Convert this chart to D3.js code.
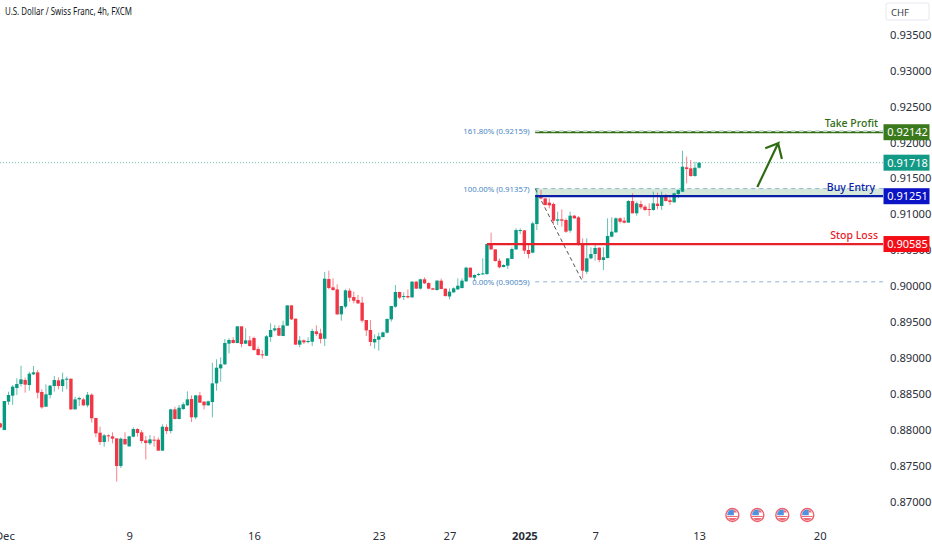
<!DOCTYPE html>
<html>
<head>
<meta charset="utf-8">
<title>USDCHF 4h</title>
<script src="https://cdnjs.cloudflare.com/ajax/libs/d3/7.8.5/d3.min.js"></script>
<style>
    html, body { margin: 0; padding: 0; background: #fff; overflow: hidden; }
    svg { display: block; }
    text { font-family: "Noto Sans", sans-serif; }
</style>
</head>
<body>
<div id="chart"></div>
<script>
// candle values, one column per array
const opens = [
    .88088,.87995,.88390,.88474,.88580,.88636,.88692,.88622,.88771,.88798,.88525,.88320,.88483,.88608,.88687,.88608,.88701,.88710,.88283,.88422,.88422,.88339,.88487,.88163,.87958,.87828,.87921,.87907,.87879,.87494,
    .87870,.87768,.87903,.88009,.87963,.87851,.87810,.87861,.87861,.87708,.88037,.87981,.88283,.88149,.88288,.88339,.88427,.88172,.88478,.88390,.88339,.88385,.88645,.88854,.88910,.89198,.89249,.89207,.89439,.89198,
    .89244,.89277,.89123,.89049,.89030,.89290,.89383,.89416,.89304,.89448,.89731,.89546,.89184,.89244,.89225,.89225,.89369,.89342,.89267,.90098,.89982,.89954,.89606,.89713,.89936,.89847,.89806,.89769,.89527,.89388,
    .89216,.89253,.89290,.89351,.89536,.89713,.89917,.89852,.89861,.89843,.90061,.89964,.90094,.90042,.89968,.89945,.90075,.89964,.89855,.89912,.89954,.89973,.90066,.90256,.90117,.90154,.90163,.90168,.90576,.90511,
    .90353,.90265,.90284,.90377,.90511,.90771,.90776,.90502,.90465,.90864,.91258,.91221,.91161,.91143,.90910,.90929,.90920,.90771,.90980,.90957,.90585,.90200,.90386,.90446,.90534,.90363,.90390,.90688,.90748,.90943,
    .90910,.90883,.91184,.91013,.91142,.91105,.91073,.91059,.91147,.91115,.91268,.91194,.91166,.91282,.91314,.91653,.91639,.91532,.91648
];
const highs = [
    .88098,.88399,.88529,.88622,.88715,.88891,.88724,.88808,.88887,.88831,.88562,.88631,.88622,.88747,.88729,.88794,.88738,.88710,.88460,.88460,.88446,.88525,.88506,.88163,.88042,.87940,.87935,.87963,.87879,.87893,
    .87963,.87916,.88033,.88019,.87995,.87912,.87926,.87912,.87893,.88074,.88074,.88292,.88320,.88344,.88381,.88534,.88478,.88483,.88525,.88399,.88404,.88933,.88980,.89007,.89263,.89272,.89286,.89439,.89439,.89411,
    .89304,.89295,.89156,.89109,.89318,.89481,.89458,.89453,.89518,.89731,.89731,.89546,.89304,.89258,.89286,.89406,.89453,.89406,.90196,.90214,.90107,.90024,.89722,.89954,.89968,.89922,.89875,.89852,.89527,.89527,
    .89328,.89351,.89365,.89550,.89722,.90015,.89922,.89912,.89954,.90070,.90070,.90103,.90121,.90052,.89977,.90084,.90103,.89964,.89968,.89982,.90107,.90107,.90270,.90256,.90163,.90186,.90386,.90585,.90743,.90511,
    .90386,.90302,.90386,.90539,.90804,.90804,.90776,.90572,.90896,.91361,.91337,.91221,.91221,.91161,.91036,.91068,.90943,.91036,.90989,.90975,.90664,.90664,.90539,.90572,.90539,.90539,.90943,.90957,.90957,.90957,
    .90957,.91198,.91291,.91175,.91189,.91129,.91152,.91314,.91300,.91314,.91282,.91268,.91300,.91347,.91885,.91802,.91755,.91732,.91723
];
const lows = [
    .88023,.87995,.88344,.88344,.88483,.88599,.88515,.88543,.88761,.88436,.88292,.88320,.88436,.88529,.88562,.88529,.88562,.88274,.88283,.88330,.88330,.88311,.88098,.87893,.87786,.87763,.87833,.87810,.87276,.87466,
    .87786,.87763,.87893,.87903,.87810,.87587,.87786,.87763,.87708,.87708,.87940,.87949,.88144,.88144,.88274,.88330,.88107,.88144,.88376,.88283,.88330,.88172,.88543,.88668,.88901,.89063,.89202,.89202,.89147,.89193,
    .89156,.89100,.89030,.88989,.89026,.89225,.89365,.89304,.89304,.89448,.89527,.89184,.89147,.89193,.89202,.89165,.89304,.89202,.89165,.89954,.89936,.89597,.89518,.89690,.89782,.89759,.89750,.89490,.89304,.89165,
    .89128,.89100,.89286,.89342,.89504,.89699,.89820,.89806,.89829,.89834,.89959,.89954,.90029,.89954,.89945,.89936,.89954,.89852,.89815,.89908,.89945,.89963,.90056,.90117,.90075,.90140,.90154,.90154,.90502,.90340,
    .90247,.90261,.90237,.90377,.90502,.90725,.90446,.90386,.90455,.90780,.91207,.91119,.91082,.90850,.90850,.90827,.90743,.90743,.90934,.90562,.90107,.90168,.90372,.90353,.90330,.90223,.90386,.90678,.90743,.90873,
    .90873,.90883,.91013,.90980,.91068,.91045,.90975,.91050,.91068,.91059,.91175,.91129,.91161,.91221,.91314,.91430,.91523,.91523,.91634
];
const closes = [
    .88033,.88399,.88483,.88599,.88636,.88701,.88627,.88780,.88798,.88515,.88311,.88492,.88613,.88692,.88608,.88701,.88710,.88283,.88422,.88441,.88339,.88487,.88158,.87949,.87828,.87921,.87912,.87875,.87494,.87875,
    .87796,.87907,.88009,.87954,.87842,.87814,.87865,.87851,.87708,.88042,.87981,.88283,.88149,.88306,.88353,.88422,.88172,.88478,.88376,.88339,.88395,.88645,.88863,.88910,.89207,.89249,.89207,.89439,.89193,.89244,
    .89165,.89109,.89040,.89035,.89300,.89388,.89411,.89309,.89453,.89731,.89536,.89184,.89244,.89216,.89235,.89374,.89332,.89263,.90103,.89973,.89945,.89606,.89722,.89940,.89838,.89796,.89759,.89518,.89383,.89221,
    .89263,.89300,.89355,.89541,.89722,.89917,.89838,.89861,.89843,.90061,.89964,.90094,.90038,.89964,.89950,.90075,.89959,.89861,.89922,.89968,.90005,.90075,.90256,.90121,.90154,.90168,.90177,.90585,.90511,.90349,
    .90261,.90293,.90386,.90516,.90780,.90780,.90493,.90446,.90873,.91268,.91221,.91129,.91124,.90910,.90929,.90910,.90757,.90980,.90943,.90572,.90214,.90386,.90446,.90530,.90363,.90400,.90697,.90757,.90943,.90896,
    .90883,.91184,.91013,.91152,.91096,.91059,.91059,.91152,.91115,.91259,.91184,.91170,.91291,.91337,.91662,.91630,.91532,.91648,.91718
];

// axis labels
const priceTicks = [.87,.875,.88,.885,.89,.895,.90,.905,.91,.915,.92,.925,.93,.935];
const timeTickBars = [1, 31, 61, 91, 108, 126, 143, 168, 197];
const timeTickLabels = ['Dec', '9', '16', '23', '27', '2025', '7', '13', '20'];
const eventBars = [176, 182, 188, 194];

// levels drawn on the chart
const lastPrice = .91718;
const takeProfit = .92142;
const buyEntry = .91251;
const stopLoss = .90585;
const fibPrices = [.92159, .91357, .90059];
const fibLabels = ['161.80% (0.92159)', '100.00% (0.91357)', '0.00% (0.90059)'];
const fibStartBar = 128.6;
const stopStartBar = 117;
const zigzagBars = [128.6, 140];
const zigzagPrices = [.91357, .90059];
const arrowBars = [182, 187, 183.9, 187, 187.9];
const arrowPrices = [.91379, .91988, .91918, .91988, .91769];

const width = 932, height = 550;
const plotRight = 883;
const green = '#089981', red = '#f23645';

const x = d3.scaleLinear().domain([0, 168]).range([0.2, 699.1]);
const y = d3.scaleLinear().domain([.87, .935]).range([501.5, 34.7]);
const rightBar = x.invert(plotRight);

const svg = d3.select('#chart').append('svg')
    .attr('width', width)
    .attr('height', height)
    .attr('viewBox', `0 0 ${width} ${height}`);

// title
svg.append('text')
    .attr('x', 5).attr('y', 15)
    .attr('font-size', 10.3)
    .attr('textLength', 127)
    .attr('lengthAdjust', 'spacingAndGlyphs')
    .attr('fill', '#131722')
    .text('U.S. Dollar / Swiss Franc, 4h, FXCM');

// price axis
const yAxis = svg.append('g')
    .attr('transform', `translate(882,0)`)
    .call(d3.axisRight(y).tickValues(priceTicks).tickSize(0).tickPadding(8).tickFormat(d3.format('.5f')));
yAxis.select('.domain').remove();
yAxis.selectAll('text')
    .attr('font-family', '"Noto Sans", sans-serif')
    .attr('font-size', 11.2)
    .attr('fill', '#2a2e39');

// time axis
const xAxis = svg.append('g')
    .attr('transform', 'translate(0,528.5)')
    .call(d3.axisBottom(x).tickValues(timeTickBars).tickSize(0).tickPadding(4)
        .tickFormat((d, i) => timeTickLabels[i]));
xAxis.select('.domain').remove();
xAxis.selectAll('text')
    .attr('font-family', '"Noto Sans", sans-serif')
    .attr('font-size', 11.2)
    .attr('fill', '#2a2e39')
    .attr('font-weight', (d, i) => timeTickLabels[i] === '2025' ? 'bold' : 'normal');

// last price line
svg.append('line')
    .attr('x1', 0).attr('x2', x(rightBar))
    .attr('y1', y(lastPrice)).attr('y2', y(lastPrice))
    .attr('stroke', green)
    .attr('stroke-opacity', .6)
    .attr('stroke-dasharray', '1 2');

// fib band between 100% and the entry line
svg.append('rect')
    .attr('x', x(fibStartBar))
    .attr('y', y(fibPrices[1]))
    .attr('width', x(rightBar) - x(fibStartBar))
    .attr('height', y(buyEntry) - y(fibPrices[1]))
    .attr('fill', '#d5e8da');

// fib levels
svg.selectAll('.fib-line')
    .data(fibPrices)
    .enter()
    .append('line')
    .attr('class', 'fib-line')
    .attr('x1', x(fibStartBar)).attr('x2', x(rightBar))
    .attr('y1', d => y(d)).attr('y2', d => y(d))
    .attr('stroke', '#8db4d4')
    .attr('stroke-width', 1)
    .attr('stroke-dasharray', '4 4');

svg.selectAll('.fib-label')
    .data(fibPrices)
    .enter()
    .append('text')
    .attr('class', 'fib-label')
    .attr('x', x(fibStartBar) - 5.5)
    .attr('y', d => y(d) + 3)
    .attr('text-anchor', 'end')
    .attr('font-size', 7.8)
    .attr('fill', '#4a86c5')
    .text((d, i) => fibLabels[i]);

// zigzag from the fib anchor down to the low
svg.append('path')
    .attr('d', d3.line().x(d => x(d)).y((d, i) => y(zigzagPrices[i]))(zigzagBars))
    .attr('fill', 'none')
    .attr('stroke', '#555')
    .attr('stroke-width', 1)
    .attr('stroke-dasharray', '4 3');

// wicks and bodies
const bars = d3.range(closes.length);
svg.selectAll('.wick')
    .data(bars)
    .enter()
    .append('line')
    .attr('class', 'wick')
    .attr('x1', i => x(i)).attr('x2', i => x(i))
    .attr('y1', i => y(highs[i])).attr('y2', i => y(lows[i]))
    .attr('stroke', i => closes[i] >= opens[i] ? green : red)
    .attr('stroke-opacity', .62)
    .attr('stroke-width', 1);

svg.selectAll('.body')
    .data(bars)
    .enter()
    .append('rect')
    .attr('class', 'body')
    .attr('x', i => x(i) - 1.7)
    .attr('width', 3.4)
    .attr('y', i => y(Math.max(opens[i], closes[i])))
    .attr('height', i => Math.max(1, Math.abs(y(opens[i]) - y(closes[i]))))
    .attr('fill', i => closes[i] >= opens[i] ? green : red);

// trade levels
const levels = [
    { price: takeProfit, startBar: fibStartBar, color: '#2f6b12', tag: '#3b7a1c', label: 'Take Profit', labelRight: 878, labelDy: -5 },
    { price: buyEntry, startBar: fibStartBar, color: '#0a1fa8', tag: '#0b14c4', label: 'Buy Entry', labelRight: 875, labelDy: -5.5 },
    { price: stopLoss, startBar: stopStartBar, color: '#e8202a', tag: '#f40d16', label: 'Stop Loss', labelRight: 878, labelDy: -5 }
];

svg.selectAll('.level-line')
    .data(levels)
    .enter()
    .append('line')
    .attr('class', 'level-line')
    .attr('x1', d => x(d.startBar)).attr('x2', x(rightBar))
    .attr('y1', d => y(d.price)).attr('y2', d => y(d.price))
    .attr('stroke', d => d.color)
    .attr('stroke-width', 2.2);

svg.selectAll('.fib-top')
    .data([fibPrices[0]])
    .enter()
    .append('line')
    .attr('x1', x(fibStartBar)).attr('x2', x(rightBar))
    .attr('y1', d => y(d) + .6).attr('y2', d => y(d) + .6)
    .attr('stroke', '#d8e6cf')
    .attr('stroke-width', 1)
    .attr('stroke-dasharray', '4 4');

svg.selectAll('.level-label')
    .data(levels)
    .enter()
    .append('text')
    .attr('class', 'level-label')
    .attr('x', d => d.labelRight)
    .attr('y', d => y(d.price) + d.labelDy)
    .attr('text-anchor', 'end')
    .attr('font-size', 10.5)
    .attr('font-weight', 500)
    .attr('fill', d => d.color)
    .text(d => d.label);

// price tags on the axis
const tags = levels.concat([{ price: lastPrice, tag: '#139a86' }]);
const tagGroups = svg.selectAll('.tag')
    .data(tags)
    .enter()
    .append('g')
    .attr('class', 'tag')
    .attr('transform', d => `translate(883.5,${y(d.price)})`);

tagGroups.append('rect')
    .attr('y', -8)
    .attr('width', 46)
    .attr('height', 16)
    .attr('fill', d => d.tag);

tagGroups.append('text')
    .attr('x', 24)
    .attr('y', 4)
    .attr('text-anchor', 'middle')
    .attr('font-size', 11)
    .attr('fill', '#fff')
    .text(d => d3.format('.5f')(d.price));

// currency box
const chf = svg.append('g').attr('transform', 'translate(886,3)');
chf.append('rect')
    .attr('width', 43).attr('height', 17)
    .attr('fill', '#fff')
    .attr('stroke', '#e6e8ee')
    .attr('rx', 2);
chf.append('text')
    .attr('x', 5).attr('y', 12.5)
    .attr('font-size', 9.5)
    .attr('fill', '#3a3f4b')
    .text('CHF');

// arrow
const arrowLine = d3.line().x(d => x(d)).y((d, i) => y(arrowPrices[i]));
svg.append('path')
    .attr('d', arrowLine(arrowBars))
    .attr('fill', 'none')
    .attr('stroke', '#2f6b12')
    .attr('stroke-width', 2.2)
    .attr('stroke-linejoin', 'miter');

// economic event markers
const eventY = 515;
const events = svg.selectAll('.event')
    .data(eventBars)
    .enter()
    .append('g')
    .attr('class', 'event')
    .attr('transform', d => `translate(${x(d)},${eventY})`);

events.append('circle')
    .attr('r', 6.5)
    .attr('fill', '#fff')
    .attr('stroke', '#f0606c')
    .attr('stroke-width', 1.4);
events.append('path')
    .attr('d', 'M-4.8,-2.5A5.4,5.4 0 0 1 1.5,-5.2V0.2H-5.2Z')
    .attr('fill', '#4f92e0');
events.append('path')
    .attr('d', 'M1.5,-4.9A5.4,5.4 0 0 1 4.6,-2.6H1.5ZM-5.3,0.9H5.3V2.1H-5.3Z')
    .attr('fill', '#ee6a75');
events.append('path')
    .attr('d', 'M-4.4,3H4.4A5.4,5.4 0 0 1 0,5.4A5.4,5.4 0 0 1 -4.4,3Z')
    .attr('fill', '#ee6a75');
</script>
</body>
</html>
